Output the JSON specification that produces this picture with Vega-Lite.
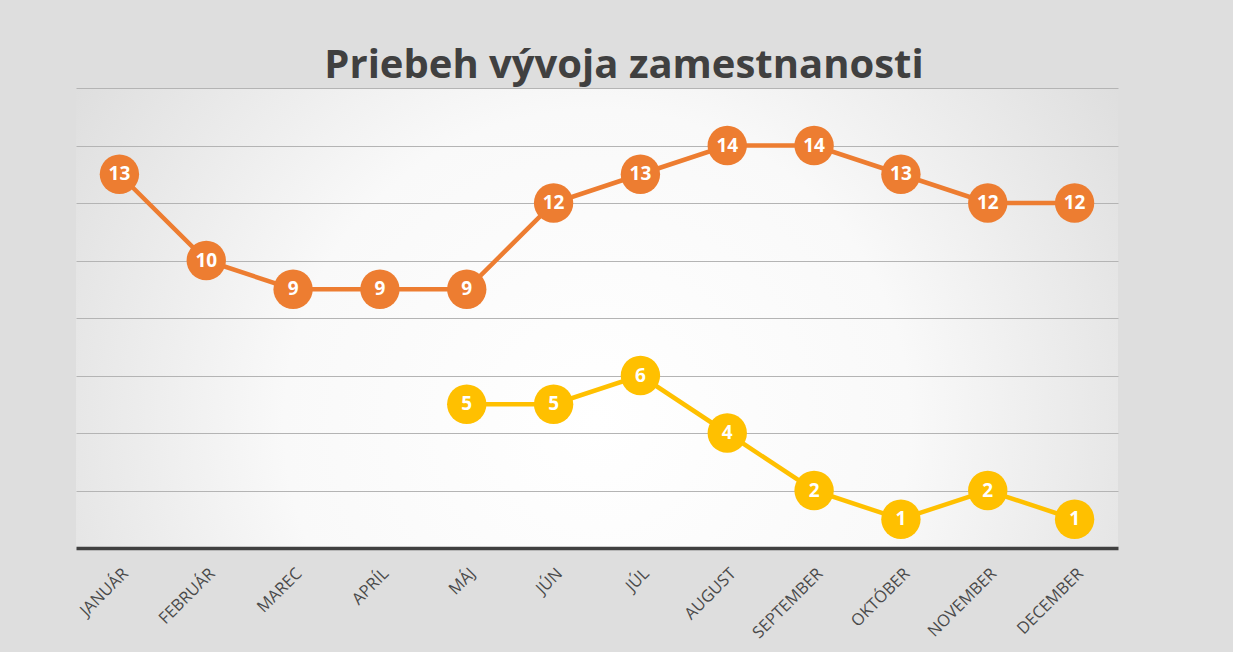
{
  "$schema": "https://vega.github.io/schema/vega-lite/v6.json",
  "autosize": {"type": "none"},
  "width": 1042,
  "height": 460,
  "padding": {"left": 76, "top": 88, "right": 115, "bottom": 104},
  "background": "#dedede",
  "title": {
    "text": "Priebeh vývoja zamestnanosti",
    "font": "Open Sans",
    "fontSize": 40,
    "fontWeight": "bold",
    "color": "#404040",
    "anchor": "middle",
    "dx": 27,
    "offset": 2
  },
  "config": {
    "view": {
      "stroke": null,
      "fill": {
        "gradient": "radial",
        "x1": 0.5, "y1": 0.6, "x2": 0.5, "y2": 0.6,
        "r1": 0, "r2": 0.75,
        "stops": [
          {"offset": 0, "color": "#ffffff"},
          {"offset": 0.4, "color": "#f9f9f9"},
          {"offset": 1, "color": "#d0d0d0"}
        ]
      }
    }
  },
  "data": {
    "values": [
      {"mesiac": "JANUÁR", "seria": "Séria 1", "hodnota": 13},
      {"mesiac": "FEBRUÁR", "seria": "Séria 1", "hodnota": 10},
      {"mesiac": "MAREC", "seria": "Séria 1", "hodnota": 9},
      {"mesiac": "APRÍL", "seria": "Séria 1", "hodnota": 9},
      {"mesiac": "MÁJ", "seria": "Séria 1", "hodnota": 9},
      {"mesiac": "JÚN", "seria": "Séria 1", "hodnota": 12},
      {"mesiac": "JÚL", "seria": "Séria 1", "hodnota": 13},
      {"mesiac": "AUGUST", "seria": "Séria 1", "hodnota": 14},
      {"mesiac": "SEPTEMBER", "seria": "Séria 1", "hodnota": 14},
      {"mesiac": "OKTÓBER", "seria": "Séria 1", "hodnota": 13},
      {"mesiac": "NOVEMBER", "seria": "Séria 1", "hodnota": 12},
      {"mesiac": "DECEMBER", "seria": "Séria 1", "hodnota": 12},
      {"mesiac": "MÁJ", "seria": "Séria 2", "hodnota": 5},
      {"mesiac": "JÚN", "seria": "Séria 2", "hodnota": 5},
      {"mesiac": "JÚL", "seria": "Séria 2", "hodnota": 6},
      {"mesiac": "AUGUST", "seria": "Séria 2", "hodnota": 4},
      {"mesiac": "SEPTEMBER", "seria": "Séria 2", "hodnota": 2},
      {"mesiac": "OKTÓBER", "seria": "Séria 2", "hodnota": 1},
      {"mesiac": "NOVEMBER", "seria": "Séria 2", "hodnota": 2},
      {"mesiac": "DECEMBER", "seria": "Séria 2", "hodnota": 1}
    ]
  },
  "encoding": {
    "x": {
      "field": "mesiac",
      "type": "nominal",
      "sort": ["JANUÁR", "FEBRUÁR", "MAREC", "APRÍL", "MÁJ", "JÚN", "JÚL", "AUGUST", "SEPTEMBER", "OKTÓBER", "NOVEMBER", "DECEMBER"],
      "axis": {
        "title": null,
        "labelAngle": -45,
        "labelAlign": "right",
        "labelBaseline": "top",
        "labelFont": "Open Sans",
        "labelFontSize": 16.5,
        "labelColor": "#4a4a4a",
        "labelPadding": 17,
        "ticks": false,
        "grid": false,
        "domainColor": "#404040",
        "domainWidth": 3.5,
        "domainCap": "butt"
      }
    },
    "y": {
      "field": "hodnota",
      "type": "quantitative",
      "scale": {"domain": [0, 16], "nice": false},
      "axis": {
        "title": null,
        "values": [2, 4, 6, 8, 10, 12, 14, 16],
        "labels": false,
        "ticks": false,
        "domain": false,
        "grid": true,
        "gridColor": "#b4b4b4",
        "gridWidth": 1
      }
    },
    "color": {
      "field": "seria",
      "type": "nominal",
      "scale": {"domain": ["Séria 1", "Séria 2"], "range": ["#ED7D31", "#FFC000"]},
      "legend": null
    }
  },
  "layer": [
    {"mark": {"type": "line", "strokeWidth": 4.5}},
    {"mark": {"type": "circle", "size": 1550, "opacity": 1}},
    {
      "mark": {"type": "text", "font": "Open Sans", "fontSize": 19, "fontWeight": "bold", "baseline": "middle", "align": "center"},
      "encoding": {
        "text": {"field": "hodnota", "type": "quantitative"},
        "color": {"value": "#ffffff"}
      }
    }
  ]
}
